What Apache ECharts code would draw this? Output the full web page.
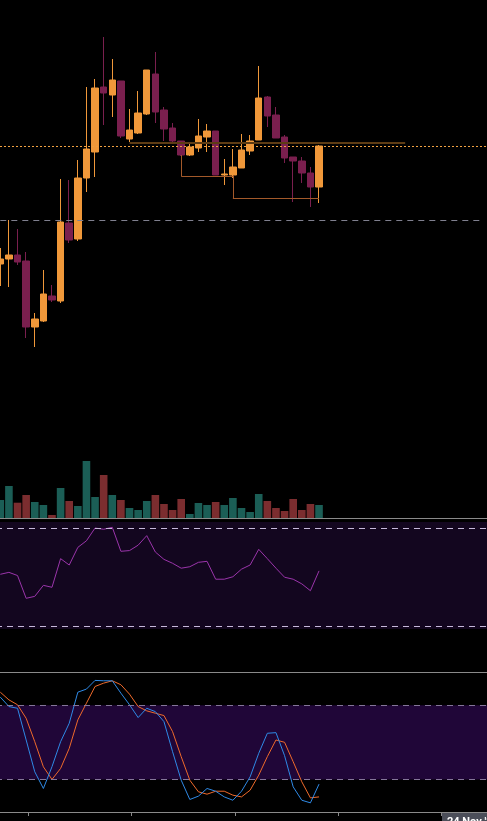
<!DOCTYPE html>
<html>
<head>
<meta charset="utf-8">
<script src="https://cdn.jsdelivr.net/npm/echarts@6/dist/echarts.min.js"></script>
<style>
  html, body { margin: 0; padding: 0; background: #000; }
  #chart { width: 487px; height: 821px; }
</style>
</head>
<body>
<div id="chart"></div>
<script>
// 57 time slots, the last 19 are empty (future space on the right)
var slots = [];
for (var i = 0; i < 57; i++) { slots.push('s' + i); }

// candles: open, close, low, high
var opens  = [33.6, 34.1, 34.5, 33.9, 27.3, 27.9, 30.4, 29.9, 37.7, 36.1, 42.2, 44.8, 51.3, 50.5, 51.9, 46.1, 46.7, 48.6, 52.6,
              49.0, 47.2, 45.9, 44.5, 45.2, 46.3, 46.9, 42.5, 42.5, 43.2, 44.9, 46.0, 50.3, 48.5, 46.3, 44.3, 43.9, 42.7, 41.3];
var closes = [34.1, 34.5, 33.8, 27.3, 28.1, 30.6, 30.0, 37.8, 36.0, 42.2, 45.1, 51.2, 50.7, 52.0, 46.4, 47.0, 48.7, 53.0, 48.8,
              47.1, 45.9, 44.5, 45.3, 46.4, 46.9, 42.5, 42.6, 43.3, 45.0, 45.9, 50.2, 48.4, 46.2, 44.2, 43.9, 42.7, 41.3, 45.4];
var lows   = [31.4, 31.3, 33.5, 26.2, 25.3, 27.8, 29.8, 29.7, 35.7, 35.9, 40.8, 42.3, 47.5, 48.3, 46.2, 45.8, 46.6, 48.5, 47.7,
              45.9, 45.8, 44.4, 44.4, 44.8, 44.8, 42.5, 41.5, 42.2, 43.2, 44.5, 46.0, 47.3, 46.2, 43.7, 39.8, 41.7, 39.3, 39.7];
var highs  = [35.2, 38.0, 37.1, 34.8, 28.7, 33.0, 31.5, 42.1, 42.0, 44.0, 51.3, 52.1, 56.3, 54.1, 51.9, 49.1, 50.9, 53.0, 54.8,
              49.3, 47.7, 45.9, 45.7, 48.1, 47.6, 46.9, 44.1, 45.1, 46.6, 46.5, 53.4, 50.4, 49.3, 46.5, 44.3, 44.3, 43.3, 45.5];

var volumes = [180, 320, 153, 230, 160, 130, 30, 300, 170, 120, 570, 210, 430, 230, 180, 100, 80, 170, 230,
               140, 80, 190, 40, 150, 130, 160, 130, 200, 100, 60, 240, 170, 100, 70, 190, 80, 140, 130];

var rsi = [51.2, 52.0, 50.7, 41.4, 42.2, 46.7, 45.9, 57.6, 55.0, 62.2, 64.9, 70.1, 69.6, 70.4, 60.6, 60.9, 63.1, 67.0, 60.3,
           57.3, 55.7, 53.7, 54.3, 56.1, 56.5, 49.2, 49.2, 50.2, 53.3, 55.0, 61.4, 57.6, 53.7, 50.0, 49.2, 47.3, 44.5, 52.6];

var stochK = [86.5, 78.9, 77.5, 51.9, 26.2, 12.7, 30.3, 50.5, 65.4, 90.5, 93.0, 100, 99.7, 99.7, 89.7, 80.3, 70.0, 77.5, 74.8,
              66.7, 42.4, 19.4, 3.8, 6.5, 12.7, 10.5, 5.9, 3.2, 10.5, 22.1, 41.1, 57.3, 57.8, 39.2, 14.0, 3.2, 1.1, 16.2];
var stochD = [90.5, 84.3, 80.3, 69.4, 50.5, 30.2, 20.0, 28.9, 45.1, 68.1, 81.6, 95.1, 97.8, 99.7, 96.5, 88.9, 78.9, 75.4, 73.5,
              71.6, 58.6, 38.4, 19.4, 10.0, 8.1, 10.5, 10.5, 7.3, 5.9, 11.3, 23.5, 38.4, 51.9, 50.0, 34.3, 18.1, 5.1, 5.9];

// drawn levels on the price pane
var resistance = { from: 15, to: 47, price: 45.73 };
var support = { from: 0, to: 56, price: 37.93 };
var lowSteps = [
  { at: 21, top: 44.5, to: 27, price: 42.4 },
  { at: 27, top: 42.5, to: 37, price: 40.2 }
];

// time axis tick positions (in slot units) and crosshair label
var timeTicks = [3.25, 15.25, 27.25, 39.2, 51.2];
var crossLabel = "24 Nov '23";

var UP = '#f0983a', DOWN = '#7a1f4e';
var VOL_UP = '#1b5e56', VOL_DOWN = '#7b2d2f';
var AXIS = '#8a8a8a';

var candles = opens.map(function (o, i) { return [o, closes[i], lows[i], highs[i]]; });
var volData = volumes.map(function (v, i) {
  return { value: v, itemStyle: { color: closes[i] >= opens[i] ? VOL_UP : VOL_DOWN } };
});

var priceMarks = [
  { yAxis: closes[closes.length - 1], lineStyle: { color: '#f0a040', type: [2, 2], width: 1 } },
  [{ coord: [slots[resistance.from], resistance.price], lineStyle: { color: '#5e3c14', type: 'solid', width: 2 } },
   { coord: [slots[resistance.to], resistance.price] }],
  [{ coord: [slots[support.from], support.price], lineStyle: { color: '#80808f', type: [6, 5], width: 1 } },
   { coord: [slots[support.to], support.price] }]
];
lowSteps.forEach(function (s) {
  var st = { color: '#a3592a', type: 'solid', width: 1 };
  priceMarks.push([{ coord: [slots[s.at], s.top], lineStyle: st }, { coord: [slots[s.at], s.price] }]);
  priceMarks.push([{ coord: [slots[s.at], s.price], lineStyle: st }, { coord: [slots[s.to], s.price] }]);
});

var chart = echarts.init(document.getElementById('chart'));

var catAxis = function (grid, showLine) {
  return {
    type: 'category', gridIndex: grid, data: slots, boundaryGap: true, position: 'bottom',
    axisLine: { show: showLine, lineStyle: { color: AXIS, width: 1 } },
    axisTick: { show: false }, axisLabel: { show: false }, splitLine: { show: false }
  };
};
var hiddenY = function (grid, min, max) {
  return { type: 'value', gridIndex: grid, min: min, max: max, show: false, splitLine: { show: false } };
};
var paneGrid = function (top, height) {
  return { left: -4, right: 0, top: top, height: height, outerBoundsMode: 'none', containLabel: false };
};

var stochCat = catAxis(3, false);
stochCat.position = 'top';

var option = {
  backgroundColor: '#000',
  animation: false,
  grid: [paneGrid(0, 518), paneGrid(0, 518), paneGrid(518, 154), paneGrid(672, 140)],
  xAxis: [
    catAxis(0, true),
    catAxis(1, false),
    catAxis(2, true),
    stochCat,
    {
      type: 'value', gridIndex: 3, min: -0.5, max: 56.5, position: 'bottom',
      axisLine: { show: true, onZero: false, lineStyle: { color: AXIS, width: 1 } },
      axisTick: { show: true, customValues: timeTicks, length: 4, lineStyle: { color: AXIS } },
      axisLabel: { show: false }, splitLine: { show: false }
    }
  ],
  yAxis: [
    hiddenY(0, 8.2, 60),
    hiddenY(1, 0, 5180),
    hiddenY(2, 11.3, 74.2),
    hiddenY(3, -6.3, 106.8)
  ],
  graphic: [
    { type: 'rect', left: 442, top: 813, shape: { width: 60, height: 14 }, style: { fill: '#4b4e59' } },
    { type: 'text', left: 447, top: 817, style: { text: crossLabel, fill: '#ffffff', font: 'bold 11px Roboto' } }
  ],
  series: [
    {
      name: 'price', type: 'candlestick', xAxisIndex: 0, yAxisIndex: 0, data: candles, barWidth: 7,
      itemStyle: { color: UP, color0: DOWN, borderColor: UP, borderColor0: DOWN, borderWidth: 1 },
      markLine: { silent: true, symbol: 'none', label: { show: false }, data: priceMarks }
    },
    {
      name: 'volume', type: 'bar', xAxisIndex: 1, yAxisIndex: 1, data: volData, barWidth: 7.6
    },
    {
      name: 'RSI', type: 'line', xAxisIndex: 2, yAxisIndex: 2, data: rsi, symbol: 'none',
      lineStyle: { color: '#9b35ab', width: 1 },
      markArea: { silent: true, itemStyle: { color: '#13061f' }, data: [[{ yAxis: 72.6 }, { yAxis: 28.9 }]] },
      markLine: {
        silent: true, symbol: 'none', label: { show: false },
        lineStyle: { color: '#c6b8da', type: [6, 5], width: 1 },
        data: [{ yAxis: 70 }, { yAxis: 30 }]
      }
    },
    {
      name: '%K', type: 'line', xAxisIndex: 3, yAxisIndex: 3, data: stochK, symbol: 'none', z: 3,
      lineStyle: { color: '#2f8ae6', width: 1 },
      markArea: { silent: true, itemStyle: { color: '#200638' }, data: [[{ yAxis: 80 }, { yAxis: 20 }]] },
      markLine: {
        silent: true, symbol: 'none', label: { show: false },
        lineStyle: { color: '#85769a', type: [6, 5], width: 1 },
        data: [{ yAxis: 80 }, { yAxis: 20 }]
      }
    },
    {
      name: '%D', type: 'line', xAxisIndex: 3, yAxisIndex: 3, data: stochD, symbol: 'none', z: 2,
      lineStyle: { color: '#ef6a2b', width: 1 }
    }
  ]
};

chart.setOption(option);
</script>
</body>
</html>
